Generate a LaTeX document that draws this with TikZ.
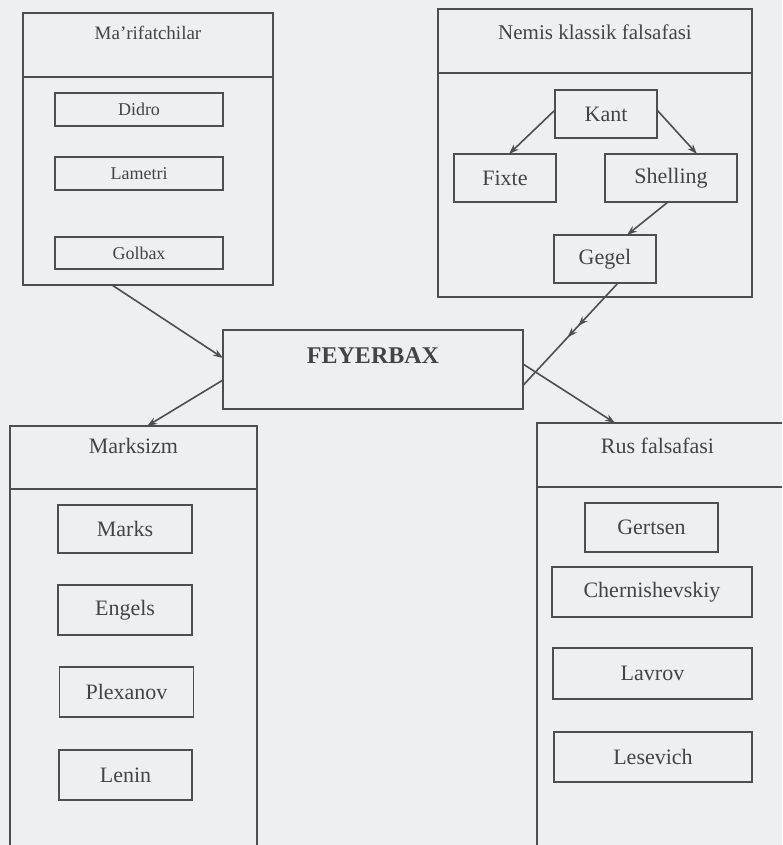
\documentclass[tikz,border=0pt]{standalone}
\usepackage{fontspec}
\setmainfont{Liberation Serif}
\usetikzlibrary{calc,arrows.meta,decorations.markings}
\definecolor{ink}{RGB}{78,78,78}
\definecolor{txt}{RGB}{68,68,68}
\definecolor{paper}{RGB}{238,239,242}
\begin{document}
\begin{tikzpicture}[x=1pt,y=-1pt,
  frame/.style={draw=ink, line width=1.5pt, rectangle, inner sep=0pt, outer sep=0pt},
  item/.style={frame, text=txt, font=\fontsize{22}{24}\selectfont},
  smallitem/.style={frame, text=txt, font=\fontsize{18}{20}\selectfont},
  title/.style={inner sep=0pt, text=txt, font=\fontsize{21}{23}\selectfont},
  arr/.style={draw=ink, line width=1.6pt, -{Stealth[length=10pt,width=7pt]}},
  dblarr/.style={draw=ink, line width=1.6pt, postaction={decorate},
    decoration={markings,
      mark=at position 0.42 with {\arrow{Stealth[length=10pt,width=7pt]}},
      mark=at position 0.53 with {\arrow{Stealth[length=10pt,width=7pt]}}}}
]
\useasboundingbox (0,0) rectangle (782,845);
\fill[paper] (0,0) rectangle (782,845);
\begin{scope}
\clip (0,0) rectangle (782,845);

% Ma'rifatchilar
\node[frame, minimum width=250pt, minimum height=64pt] (marifH) at (148,45) {};
\node[frame, minimum width=250pt, minimum height=208pt] (marifB) at (148,181) {};
\node[title, font=\fontsize{19}{21}\selectfont] (marifT) at (148,33) {Ma’rifatchilar};
\node[smallitem, minimum width=168pt, minimum height=33pt] (didro) at (139,109.5) {Didro};
\node[smallitem, minimum width=168pt, minimum height=33pt] (lametri) at (139,173.5) {Lametri};
\node[smallitem, minimum width=168pt, minimum height=32pt] (golbax) at (139,253) {Golbax};

% Nemis klassik falsafasi
\node[frame, minimum width=314pt, minimum height=64pt] (nemisH) at (595,41) {};
\node[frame, minimum width=314pt, minimum height=224pt] (nemisB) at (595,185) {};
\node[title] (nemisT) at (595,32) {Nemis klassik falsafasi};
\node[item, minimum width=102pt, minimum height=48pt] (kant) at (606,114) {Kant};
\node[item, minimum width=102pt, minimum height=48pt] (fixte) at (505,178) {Fixte};
\node[item, minimum width=132pt, minimum height=48pt] (shelling) at (671,178) {Shelling};
\node[item, minimum width=102pt, minimum height=48pt] (gegel) at (605,259) {Gegel};

% FEYERBAX
\node[frame, line width=2.4pt, text=txt, font=\fontsize{24}{26}\selectfont\bfseries,
  minimum width=300pt, minimum height=79pt, text height=17pt, text depth=30pt]
  (feyer) at (373,369.5) {FEYERBAX};

% Marksizm
\node[frame, minimum width=247pt, minimum height=63pt] (marxH) at (133.5,457.5) {};
\draw[draw=ink, line width=1.5pt] (marxH.south west) -- ++(0,380);
\draw[draw=ink, line width=1.5pt] (marxH.south east) -- ++(0,380);
\node[title, font=\fontsize{22}{24}\selectfont] (marxT) at (133.5,446) {Marksizm};
\node[item, minimum width=134pt, minimum height=48pt] (marks) at (125,529) {Marks};
\node[item, minimum width=134pt, minimum height=50pt] (engels) at (125,610) {Engels};
\node[item, minimum width=134pt, minimum height=50pt] (plexanov) at (126.5,692) {Plexanov};
\node[item, minimum width=133pt, minimum height=50pt] (lenin) at (125.5,775) {Lenin};

% Rus falsafasi
\node[frame, minimum width=263pt, minimum height=64pt] (rusH) at (668.5,455) {};
\draw[draw=ink, line width=1.5pt] (rusH.south west) -- ++(0,380);
\node[title, font=\fontsize{22}{24}\selectfont] (rusT) at (657.5,446) {Rus falsafasi};
\node[item, minimum width=133pt, minimum height=49pt] (gertsen) at (651.5,527.5) {Gertsen};
\node[item, minimum width=200pt, minimum height=50pt] (chern) at (652,592) {Chernishevskiy};
\node[item, minimum width=199pt, minimum height=51pt] (lavrov) at (652.5,673.5) {Lavrov};
\node[item, minimum width=198pt, minimum height=50pt] (lesevich) at (653,757) {Lesevich};

% connectors
\draw[arr] ([yshift=4pt]kant.west) -- ([xshift=4pt]fixte.north);
\draw[arr] ([yshift=4pt]kant.east) -- ([xshift=26pt]shelling.north);
\draw[arr] ([xshift=-3pt]shelling.south) -- ([xshift=22pt]gegel.north);
\draw[arr] ($(marifB.south west)!0.356!(marifB.south east)$) -- ([yshift=11.5pt]feyer.west);
\draw[dblarr] ([xshift=13pt]gegel.south) -- ([yshift=-16pt]feyer.east);
\draw[arr] ([yshift=-10.5pt]feyer.west) -- ($(marxH.north west)!0.555!(marxH.north east)$);
\draw[arr] ([yshift=5.5pt]feyer.east) -- ($(rusH.north west)+(78,0)$);
\end{scope}
\end{tikzpicture}
\end{document}
